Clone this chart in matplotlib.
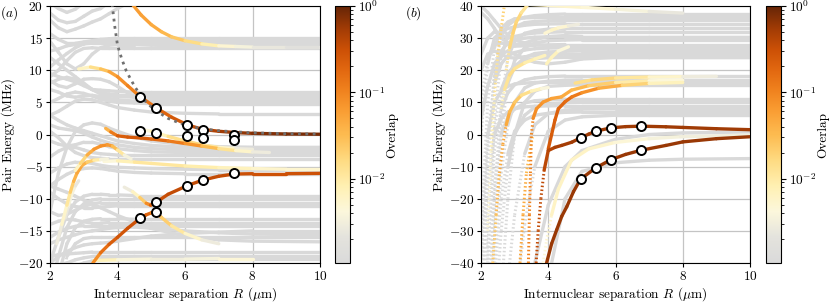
import numpy as np
import matplotlib
matplotlib.use('Agg')
import matplotlib.pyplot as plt
from matplotlib.collections import LineCollection
from matplotlib.colors import LinearSegmentedColormap, LogNorm
from matplotlib.cm import ScalarMappable

plt.rcParams['font.family'] = 'serif'
plt.rcParams['font.serif'] = ['cmr10']
plt.rcParams['mathtext.fontset'] = 'cm'
plt.rcParams['axes.formatter.use_mathtext'] = True
plt.rcParams['font.size'] = 9.6

# ---------------- panel (a) data ----------------
grey_a_R = [2.0, 2.25, 2.5, 2.75, 3.0, 3.25, 3.5, 3.75, 4.0, 4.5, 5.0, 6.0, 7.0, 8.0, 10.0]
grey_a_E = [
    [18.9, 17.8, 17.4, 17.6, 18.4, 19.2, 19.6, 20.6, 22, 25, 25, 25, 25, 25, 25],
    [17.8, 16.6, 16.0, 16.4, 16.9, 17.5, 18.0, 18.8, 19.6, 21, 25, 25, 25, 25, 25],
    [20.5, 19.6, 19.0, 19.5, 20.5, 22, 24, 25, 25, 25, 25, 25, 25, 25, 25],
    [15.7, 14.8, 14.2, 14.2, 14.4, 14.6, 14.8, 14.9, 15.0, 15.0, 15.0, 15.0, 15.0, 15.0, 15.0],
    [10.5, 11.6, 12.6, 13.5, 14.1, 14.4, 14.5, 14.6, 14.6, 14.6, 14.6, 14.6, 14.6, 14.6, 14.6],
    [13.0, 13.3, 13.8, 14.0, 14.1, 14.2, 14.2, 14.2, 14.2, 14.2, 14.2, 14.2, 14.2, 14.2, 14.2],
    [9.0, 10.0, 11.5, 12.8, 13.4, 13.5, 13.4, 13.4, 13.4, 13.4, 13.4, 13.4, 13.4, 13.4, 13.4],
    [14.5, 12.8, 11.0, 10.2, 11.0, 12.5, 13.5, 13.9, 14.0, 14.0, 13.9, 13.8, 13.8, 13.8, 13.8],
    [9.5, 9.0, 8.6, 8.2, 7.6, 7.0, 6.9, 6.8, 6.7, 6.6, 6.6, 6.6, 6.6, 6.6, 6.6],
    [8.0, 8.6, 8.9, 8.6, 7.8, 7.0, 6.5, 6.3, 6.2, 6.2, 6.2, 6.2, 6.2, 6.2, 6.2],
    [12.0, 11.0, 10.0, 9.0, 8.0, 7.0, 6.3, 6.0, 5.9, 5.8, 5.8, 5.8, 5.8, 5.8, 5.8],
    [8.4, 7.6, 7.3, 7.9, 8.6, 8.7, 8.6, 8.2, 7.5, 5.8, 5.4, 5.3, 5.3, 5.3, 5.3],
    [7.0, 6.6, 6.0, 5.8, 6.0, 6.1, 5.9, 5.6, 5.4, 5.2, 5.0, 5.0, 5.0, 5.0, 5.0],
    [5.0, 5.6, 6.3, 6.6, 6.4, 6.0, 5.5, 5.2, 5.0, 4.9, 4.8, 4.8, 4.8, 4.8, 4.8],
    [3.0, 3.6, 4.4, 5.2, 5.5, 5.4, 5.0, 4.6, 4.2, 3.8, 3.5, 3.3, 3.2, 3.2, 3.2],
    [3.0, 2.2, 1.5, 1.0, 0.6, 0.2, -0.2, -0.6, -1.0, -1.4, -1.7, -2.0, -2.0, -2.0, -2.0],
    [1.5, 1.0, 0.8, 0.6, 0.2, -0.4, -0.9, -1.3, -1.6, -2.0, -2.2, -2.4, -2.4, -2.4, -2.4],
    [-1.0, -1.5, -1.8, -1.6, -1.2, -1.2, -1.5, -1.9, -2.2, -2.5, -2.7, -2.8, -2.8, -2.8, -2.8],
    [-3.5, -2.6, -2.0, -2.0, -2.4, -2.8, -3.0, -3.1, -3.2, -3.2, -3.2, -3.2, -3.2, -3.2, -3.2],
    [0.5, -0.5, -1.8, -2.8, -3.3, -3.6, -3.7, -3.8, -3.8, -3.8, -3.8, -3.8, -3.8, -3.8, -3.8],
    [-12, -6, -2, 0.5, 1.5, 1.8, 1.6, 1.0, 0.5, -0.4, -1.0, -1.6, -1.9, -2.0, -2.0],
    [-6.0, -5.2, -4.6, -4.3, -4.3, -4.5, -4.8, -5.0, -5.1, -5.2, -5.3, -5.4, -5.5, -5.5, -5.5],
    [-8.0, -7.0, -6.2, -5.6, -5.3, -5.2, -5.3, -5.5, -5.7, -5.9, -6.0, -6.1, -6.1, -6.1, -6.1],
    [-20, -16, -12.5, -10.5, -9.6, -9.3, -9.3, -9.4, -9.4, -9.5, -9.5, -9.5, -9.5, -9.5, -9.5],
    [-24, -19, -14.5, -12, -10.8, -10.2, -10.0, -10.0, -10.0, -10.0, -10.0, -10.0, -10.0, -10.0, -10.0],
    [-12.0, -12.6, -12.4, -11.8, -11.2, -10.8, -10.6, -10.6, -10.6, -10.6, -10.6, -10.6, -10.6, -10.6, -10.6],
    [-9.0, -10.0, -10.8, -11.2, -11.4, -11.4, -11.3, -11.2, -11.1, -11.1, -11.1, -11.1, -11.1, -11.1, -11.1],
    [-28, -22, -17, -14.5, -13.5, -13.2, -13.1, -13.1, -13.1, -13.2, -13.2, -13.2, -13.2, -13.2, -13.2],
    [-14.0, -13.5, -13.2, -13.3, -13.6, -13.8, -13.8, -13.7, -13.7, -13.7, -13.7, -13.7, -13.7, -13.7, -13.7],
    [-16, -15.2, -14.6, -14.3, -14.2, -14.2, -14.2, -14.2, -14.2, -14.2, -14.2, -14.2, -14.2, -14.2, -14.2],
    [-17, -16.4, -16.0, -15.6, -15.2, -15.0, -14.8, -14.6, -14.5, -14.4, -14.6, -15.0, -15.3, -15.5, -15.6],
    [-35, -26, -19, -17, -16.2, -16.0, -16.0, -16.0, -16.0, -16.0, -16.0, -16.0, -16.0, -16.0, -16.0],
    [-8, -8.5, -9.0, -9.6, -10.2, -10.8, -11.4, -12.0, -12.6, -13.6, -14.6, -15.8, -16.4, -16.6, -16.7],
    [-20, -19, -18.2, -17.6, -17.2, -17.0, -16.9, -16.8, -16.6, -16.2, -15.8, -15.4, -15.2, -15.0, -15.0],
    [-19.0, -18.7, -18.6, -18.5, -18.4, -18.3, -18.3, -18.3, -18.3, -18.3, -18.3, -18.3, -18.3, -18.3, -18.3],
    [-21, -20.5, -20, -19.5, -19.2, -19.0, -18.9, -18.9, -18.9, -18.9, -18.9, -18.9, -18.9, -18.9, -18.9],
    [-40, -30, -22, -20.5, -20, -19.7, -19.5, -19.4, -19.4, -19.4, -19.4, -19.4, -19.4, -19.4, -19.4],
]

top_a_R = [4.45, 4.7, 5.0, 5.3, 5.6, 6.0, 6.5, 7.0, 7.5, 8.0, 9.0, 10.0]
top_a_E = [20.2, 18.6, 17.1, 16.0, 15.2, 14.6, 14.1, 13.8, 13.7, 13.6, 13.6, 13.6]
top_a_ov = [0.06, 0.06, 0.05, 0.04, 0.03, 0.02, 0.012, 0.006, 0.004, 0.003, 0.002, 0.0015]

main_a_R = [2.85, 3.2, 3.5, 3.75, 4.0, 4.3, 4.67, 5.16, 5.6, 6.07, 6.52, 7.0, 7.5, 8.0, 9.0, 10.0]
main_a_E = [10.2, 10.5, 10.2, 9.8, 9.0, 7.6, 5.9, 4.1, 2.7, 1.5, 0.8, 0.5, 0.3, 0.18, 0.08, 0.04]
main_a_ov = [0.004, 0.01, 0.02, 0.04, 0.07, 0.09, 0.12, 0.17, 0.22, 0.3, 0.4, 0.5, 0.6, 0.7, 0.8, 0.85]

zero_a_R = [3.65, 3.8, 4.0, 4.3, 4.7, 5.0, 5.5, 6.0, 6.5, 7.0, 7.5, 8.0, 8.5]
zero_a_E = [0.95, 0.4, -0.2, -0.4, -0.55, -0.7, -1.0, -1.4, -1.8, -2.2, -2.5, -2.7, -2.8]
zero_a_ov = [0.02, 0.08, 0.2, 0.25, 0.25, 0.2, 0.15, 0.1, 0.05, 0.02, 0.008, 0.004, 0.002]

pale_a_R = [4.6, 5.0, 5.5, 6.0, 6.5, 7.0, 7.5, 8.0]
pale_a_E = [0.9, 0.5, -0.3, -1.0, -1.6, -2.0, -2.2, -2.3]
pale_a_ov = [0.003, 0.006, 0.01, 0.02, 0.015, 0.008, 0.004, 0.002]

hump_a_R = [2.75, 2.9, 3.1, 3.3, 3.5, 3.7, 3.85, 4.0, 4.2, 4.4]
hump_a_E = [-5.6, -4.5, -3.2, -2.3, -1.8, -1.6, -1.8, -2.4, -3.2, -3.8]
hump_a_ov = [0.004, 0.01, 0.03, 0.06, 0.08, 0.08, 0.05, 0.02, 0.006, 0.002]

rise_a_R = [2.2, 2.35, 2.5, 2.6, 2.7, 2.8, 2.95, 3.1, 3.3, 3.5, 3.7]
rise_a_E = [-17, -14, -11, -9, -7.3, -6.0, -4.8, -4.3, -4.0, -3.9, -3.8]
rise_a_ov = [0.002, 0.004, 0.008, 0.015, 0.03, 0.05, 0.05, 0.03, 0.015, 0.006, 0.002]

yel_a_R = [3.6, 4.0, 4.5, 5.0, 6.0, 7.0, 8.0, 9.0, 10.0]
yel_a_E = [-4.2, -4.1, -4.3, -4.5, -4.9, -5.15, -5.3, -5.4, -5.4]
yel_a_ov = [0.003, 0.006, 0.01, 0.012, 0.01, 0.008, 0.006, 0.005, 0.005]

low_a_R = [3.27, 3.5, 3.75, 4.0, 4.3, 4.67, 4.85, 5.0, 5.1, 5.3, 5.6, 6.0, 6.5, 7.0]
low_a_E = [-20, -18.4, -17.1, -16.0, -14.6, -13.05, -12.5, -12.2, -12.05, -12.9, -14.2, -15.4, -16.4, -17.0]
low_a_ov = [0.06, 0.12, 0.2, 0.25, 0.3, 0.3, 0.25, 0.15, 0.08, 0.03, 0.015, 0.008, 0.004, 0.002]

up_a_R = [4.2, 4.45, 4.66, 4.85, 4.98, 5.14, 5.5, 6.07, 6.52, 7.0, 7.46, 8.0, 9.0, 10.0]
up_a_E = [-8.2, -8.9, -9.8, -10.7, -11.0, -10.57, -9.3, -7.95, -7.1, -6.5, -6.15, -6.1, -6.1, -6.05]
up_a_ov = [0.002, 0.004, 0.01, 0.05, 0.15, 0.3, 0.35, 0.35, 0.35, 0.35, 0.33, 0.3, 0.3, 0.3]

bot_a_R = [3.3, 4.0, 5.0, 6.0, 7.0, 8.0]
bot_a_E = [-19.6, -19.5, -19.4, -19.4, -19.3, -19.3]
bot_a_ov = [0.01, 0.005, 0.003, 0.003, 0.004, 0.005]

left_a_R = [2.45, 2.55, 2.65, 2.75, 2.85]
left_a_E = [-13, -11, -9.2, -8.0, -7.2]
left_a_ov = [0.002, 0.003, 0.004, 0.003, 0.002]

dot_a_R = [3.84, 3.92, 4.0, 4.13, 4.26, 4.4, 4.53, 4.67, 4.8, 5.0, 5.2, 5.5, 6.0, 6.5, 7.0, 8.0, 9.0, 10.0]
dot_a_E = [20.3, 16.8, 13.9, 11.7, 9.9, 8.5, 7.3, 6.2, 5.3, 4.3, 3.5, 2.5, 1.45, 0.9, 0.58, 0.26, 0.13, 0.07]

mk_a_R = [4.67, 5.15, 6.07, 6.52, 7.46, 4.67, 5.15, 6.07, 6.52, 7.46, 7.46, 6.52, 6.07, 5.15, 5.15, 4.67]
mk_a_E = [5.85, 4.15, 1.45, 0.67, -0.1, 0.52, 0.26, -0.26, -0.52, -0.93, -5.96, -7.1, -7.98, -10.57, -12.0, -13.06]

# ---------------- panel (b) data ----------------
grey_b_R = [2.0, 2.2, 2.4, 2.6, 2.8, 3.0, 3.3, 3.6, 4.0, 4.5, 5.0, 6.0, 7.0, 8.0, 10.0]
grey_b_E = [
    [-60, -10, 20, 31, 34, 35.5, 36.5, 37, 37.3, 37.5, 37.5, 37.5, 37.5, 37.5, 37.5],
    [-30, 10, 27, 33, 35, 36, 36.3, 36.4, 36.5, 36.5, 36.5, 36.5, 36.5, 36.5, 36.5],
    [-80, -40, 5, 24, 31, 33.5, 34.8, 35.2, 35.4, 35.5, 35.5, 35.5, 35.5, 35.5, 35.5],
    [0, 22, 30, 32, 33, 33.5, 34, 34.3, 34.4, 34.5, 34.5, 34.5, 34.5, 34.5, 34.5],
    [-90, -60, -20, 10, 24, 29, 31.5, 32.3, 32.8, 33, 33, 33, 33, 33, 33],
    [25, 30, 32, 31, 30, 30.5, 31.2, 31.6, 31.8, 32, 32, 32, 32, 32, 32],
    [-50, -5, 18, 26, 28.5, 29.5, 30, 30.3, 30.4, 30.5, 30.5, 30.5, 30.5, 30.5, 30.5],
    [-120, -70, -30, 0, 16, 23, 27, 28.5, 29.2, 29.4, 29.5, 29.5, 29.5, 29.5, 29.5],
    [10, 24, 28, 28.5, 28, 27.5, 27.6, 27.8, 27.9, 28, 28, 28, 28, 28, 28],
    [-40, 0, 16, 22, 24.5, 25.5, 26.3, 26.7, 26.9, 27, 27, 27, 27, 27, 27],
    [-100, -60, -20, 5, 16, 21, 24, 25.2, 25.7, 25.9, 26, 26, 26, 26, 26],
    [20, 25, 26, 25, 24, 23.8, 24.2, 24.6, 24.8, 25, 25, 25, 25, 25, 25],
    [-70, -25, 2, 14, 19, 21.5, 23, 23.6, 23.9, 24, 24, 24, 24, 24, 24],
    [38, 36, 33, 30, 28.5, 28, 28.5, 29.5, 30.5, 30.8, 30.5, 30.5, 30.5, 30.5, 30.5],
    [40, 38, 35.5, 33, 31, 29.5, 28.5, 28, 27.6, 27.3, 27.1, 27, 27, 27, 27],
    [5, 15, 22, 25, 26, 25, 23.5, 22.5, 22, 22.5, 23.5, 24, 24, 24, 24],
    [-80, -35, -5, 8, 13, 15.5, 17, 17.6, 18, 18.2, 18.2, 18.2, 18.2, 18.2, 18.2],
    [-130, -80, -40, -12, 3, 10, 14.5, 16, 16.6, 16.9, 17, 17, 17, 17, 17],
    [-30, 0, 10, 13.5, 15, 15.7, 16, 16.2, 16.3, 16.3, 16.3, 16.3, 16.3, 16.3, 16.3],
    [-200, -140, -90, -50, -20, 0, 10, 13.5, 15, 15.3, 15.5, 15.5, 15.5, 15.5, 15.5],
    [-90, -45, -15, 0, 5.5, 8, 9.8, 10.5, 10.8, 11, 11, 11, 11, 11, 11],
    [-150, -100, -60, -30, -10, 0, 6, 8.5, 9.5, 9.9, 10, 10, 10, 10, 10],
    [-50, -15, 0, 5, 7, 8, 8.6, 8.8, 8.9, 9, 9, 9, 9, 9, 9],
    [-220, -160, -110, -75, -45, -25, -6, 3, 6.5, 7.6, 7.9, 8, 8, 8, 8],
    [-120, -80, -45, -20, -6, 1, 4.5, 6, 6.6, 6.9, 7, 7, 7, 7, 7],
    [-260, -200, -150, -110, -80, -55, -28, -10, 1, 4.5, 5.5, 6, 6, 6, 6],
    [-400, -350, -300, -250, -200, -150, -100, -70, -45, -20, -11.5, -8.8, -8.0, -7.7, -7.5],
    [-300, -250, -200, -160, -120, -90, -60, -40, -22, -10, -5, -1.5, 0, 0.5, 0.8],
]

up_b_R = [3.64, 3.7, 3.78, 3.88, 4.0, 4.2, 4.4, 4.7, 4.96, 5.2, 5.41, 5.87, 6.3, 6.76, 7.5, 8.0, 9.0, 10.0]
up_b_E = [-40, -30, -20, -11, -5.0, -4.0, -3.4, -2.4, -1.04, 0.1, 1.04, 2.07, 2.45, 2.59, 2.4, 2.2, 1.8, 1.5]
up_b_ov = [0.35, 0.35, 0.35, 0.38, 0.4, 0.45, 0.5, 0.55, 0.55, 0.55, 0.55, 0.55, 0.55, 0.55, 0.55, 0.55, 0.55, 0.55]

low_b_R = [3.95, 4.1, 4.25, 4.4, 4.55, 4.75, 4.96, 5.41, 5.87, 6.3, 6.76, 7.5, 8.0, 9.0, 10.0]
low_b_E = [-40, -34, -29.7, -25.5, -22.5, -17.8, -13.9, -10.4, -7.8, -6.2, -4.9, -3.4, -2.3, -1.3, -0.7]
low_b_ov = [0.6, 0.6, 0.6, 0.6, 0.6, 0.6, 0.6, 0.6, 0.6, 0.6, 0.6, 0.6, 0.6, 0.6, 0.6]

rise_b_R = [4.0, 4.1, 4.2, 4.3, 4.5, 4.7, 5.0, 5.5, 6.2, 7.0, 8.0]
rise_b_E = [-4.5, 0, 4.5, 8.0, 10.2, 11.7, 13.0, 14.4, 15.3, 15.9, 16.2]
rise_b_ov = [0.25, 0.25, 0.22, 0.2, 0.18, 0.15, 0.1, 0.06, 0.03, 0.012, 0.004]

orng_b_R = [3.41, 3.44, 3.47, 3.5, 3.55, 3.65, 3.85, 4.1, 4.39, 4.69, 5.2, 6.0, 7.0, 8.0]
orng_b_E = [-40, -25, -12, 0, 5, 8, 10.1, 11.2, 11.7, 13.8, 15.2, 16.2, 16.7, 16.9]
orng_b_ov = [0.1, 0.1, 0.1, 0.1, 0.09, 0.08, 0.07, 0.06, 0.05, 0.04, 0.03, 0.015, 0.006, 0.003]

lorng_b_R = [3.16, 3.25, 3.35, 3.46, 3.55]
lorng_b_E = [-40, -25, -12, -4.8, 0]
lorng_b_ov = [0.05, 0.05, 0.04, 0.03, 0.01]

left_b_R = [2.35, 2.45, 2.55, 2.65, 2.75, 2.85, 3.0, 3.2, 3.5, 3.8, 4.0]
left_b_E = [-40, -25, -12, -3, 3, 7, 10, 12.2, 13.5, 14.3, 14.6]
left_b_ov = [0.02, 0.03, 0.04, 0.05, 0.05, 0.04, 0.03, 0.02, 0.01, 0.005, 0.003]

y20_b_R = [2.6, 2.7, 2.85, 3.0, 3.3, 3.6, 3.9]
y20_b_E = [8, 14, 18.5, 20.5, 22.3, 23.5, 24.6]
y20_b_ov = [0.005, 0.01, 0.015, 0.015, 0.01, 0.008, 0.006]

y25_b_R = [3.95, 4.1, 4.3, 4.6]
y25_b_E = [22, 24, 26, 27.3]
y25_b_ov = [0.006, 0.008, 0.006, 0.003]

steep_b_R = [2.2, 2.3, 2.4, 2.5, 2.6, 2.7]
steep_b_E = [-30, -5, 12, 25, 33, 40.5]
steep_b_ov = [0.004, 0.006, 0.01, 0.015, 0.02, 0.02]

y38_b_R = [2.75, 2.85, 2.95, 3.05, 3.2, 3.4]
y38_b_E = [20, 27, 31.5, 35, 37.9, 40.5]
y38_b_ov = [0.01, 0.015, 0.02, 0.02, 0.015, 0.01]

top_b_R = [3.4, 4.0, 5.0, 6.0, 7.0, 8.0]
top_b_E = [40.5, 40.2, 39.6, 39.0, 38.3, 37.8]
top_b_ov = [0.008, 0.006, 0.005, 0.004, 0.003, 0.002]

y33_b_R = [3.9, 4.1, 4.3, 4.6, 4.9]
y33_b_E = [31.5, 32.5, 33.2, 33.8, 34.3]
y33_b_ov = [0.004, 0.006, 0.006, 0.004, 0.002]

y17_b_R = [4.8, 5.3, 6.0, 7.0, 8.0, 9.0]
y17_b_E = [16.0, 17.0, 17.6, 17.9, 18.0, 18.1]
y17_b_ov = [0.01, 0.02, 0.015, 0.008, 0.004, 0.002]

pale_b_R = [3.85, 3.95, 4.1, 4.3, 4.69, 5.2, 5.97, 7.0, 7.94, 10.0]
pale_b_E = [-40, -33, -25, -17, -8, -4.5, -2.5, -1.3, -0.7, -0.2]
pale_b_ov = [0.004, 0.005, 0.006, 0.006, 0.006, 0.006, 0.005, 0.004, 0.003, 0.003]

mk_b_R = [4.96, 5.41, 5.87, 6.76, 4.96, 5.41, 5.87, 6.76]
mk_b_E = [-1.04, 1.04, 2.07, 2.59, -13.9, -10.4, -7.8, -4.9]

colored_a = [(top_a_R, top_a_E, top_a_ov), (main_a_R, main_a_E, main_a_ov),
             (zero_a_R, zero_a_E, zero_a_ov), (pale_a_R, pale_a_E, pale_a_ov),
             (hump_a_R, hump_a_E, hump_a_ov), (rise_a_R, rise_a_E, rise_a_ov),
             (yel_a_R, yel_a_E, yel_a_ov), (low_a_R, low_a_E, low_a_ov),
             (up_a_R, up_a_E, up_a_ov), (bot_a_R, bot_a_E, bot_a_ov),
             (left_a_R, left_a_E, left_a_ov)]
colored_b = [(up_b_R, up_b_E, up_b_ov), (low_b_R, low_b_E, low_b_ov),
             (rise_b_R, rise_b_E, rise_b_ov), (orng_b_R, orng_b_E, orng_b_ov),
             (lorng_b_R, lorng_b_E, lorng_b_ov), (left_b_R, left_b_E, left_b_ov),
             (y20_b_R, y20_b_E, y20_b_ov), (y25_b_R, y25_b_E, y25_b_ov),
             (steep_b_R, steep_b_E, steep_b_ov), (y38_b_R, y38_b_E, y38_b_ov),
             (top_b_R, top_b_E, top_b_ov), (y33_b_R, y33_b_E, y33_b_ov),
             (y17_b_R, y17_b_E, y17_b_ov), (pale_b_R, pale_b_E, pale_b_ov)]

GREY = '#d9d9d9'
LW = 2.4
cmap = LinearSegmentedColormap.from_list('overlap', [
    (0.0, '#dadada'), (0.1, '#e4e3dd'), (0.2, '#fcf7dc'), (0.3, '#fff0b2'),
    (0.4, '#fedb82'), (0.5, '#fdbb50'), (0.6, '#f99a30'), (0.67, '#f0821e'),
    (0.75, '#e26810'), (0.83, '#cc5006'), (0.91, '#a33c05'), (1.0, '#662506')])
norm = LogNorm(vmin=1.05e-3, vmax=1.0)


def draw_curve(ax, R, E, ov=None, z=2):
    R = np.asarray(R, float)
    E = np.asarray(E, float)
    segs = np.stack([np.column_stack([R[:-1], E[:-1]]),
                     np.column_stack([R[1:], E[1:]])], axis=1)
    pix = ax.transData.transform(np.column_stack([R, E]))
    d = np.diff(pix, axis=0)
    steep = np.abs(d[:, 1]) > 5 * np.abs(d[:, 0])
    if ov is not None:
        ov = np.asarray(ov, float)
        seg_ov = np.sqrt(ov[:-1] * ov[1:])
        cols = cmap(norm(seg_ov))
        z = z + float(np.log10(seg_ov.mean()) + 4)
    else:
        cols = np.array([matplotlib.colors.to_rgba(GREY)] * len(segs))
    if (~steep).any():
        lc = LineCollection(segs[~steep], colors=cols[~steep], linewidths=LW,
                            capstyle='round', joinstyle='round', zorder=z)
        ax.add_collection(lc)
    if steep.any():
        lc = LineCollection(segs[steep], colors=cols[steep], linewidths=LW * 0.9,
                            linestyles=[(0, (0.5, 0.8))], capstyle='butt', zorder=z)
        ax.add_collection(lc)


fig = plt.figure(figsize=(8.31, 3.02), dpi=100)
ax_a = fig.add_axes([50/831, 1 - 263/302, 270/831, 257/302])
cax_a = fig.add_axes([335/831, 1 - 263/302, 15/831, 257/302])
ax_b = fig.add_axes([481/831, 1 - 263/302, 269/831, 257/302])
cax_b = fig.add_axes([766/831, 1 - 263/302, 15/831, 257/302])

for ax, ylim, yt in [(ax_a, (-20, 20), np.arange(-20, 21, 5)),
                     (ax_b, (-40, 40), np.arange(-40, 41, 10))]:
    ax.set_xlim(2, 10)
    ax.set_ylim(*ylim)
    ax.set_xticks([2, 4, 6, 8, 10])
    ax.set_yticks(yt)
    ax.grid(True, color='#c4c4c4', lw=0.9)
    ax.set_axisbelow(True)
    ax.set_xlabel(r'Internuclear separation $R$ ($\mu$m)', labelpad=1.5)
    ax.set_ylabel('Pair Energy (MHz)', labelpad=2)
    ax.tick_params(direction='out', length=3, width=0.8, pad=2)

for E in grey_a_E:
    draw_curve(ax_a, grey_a_R, E)
for R, E, ov in colored_a:
    draw_curve(ax_a, R, E, ov, z=3)
ax_a.plot(dot_a_R, dot_a_E, ls=':', color='#707070', lw=2.0, zorder=8)
ax_a.plot(mk_a_R, mk_a_E, 'o', ms=6.5, mfc='white', mec='black', mew=1.4, zorder=10)

for E in grey_b_E:
    draw_curve(ax_b, grey_b_R, E)
for R, E, ov in colored_b:
    draw_curve(ax_b, R, E, ov, z=3)
ax_b.plot(mk_b_R, mk_b_E, 'o', ms=6.5, mfc='white', mec='black', mew=1.4, zorder=10)

for cax in (cax_a, cax_b):
    cb = fig.colorbar(ScalarMappable(norm=norm, cmap=cmap), cax=cax)
    cb.set_label('Overlap', labelpad=1)
    cb.outline.set_linewidth(0.8)
    cax.tick_params(pad=2)

fig.text(0.0, 0.985, r'$(a)$', ha='left', va='top')
fig.text(405/831, 0.985, r'$(b)$', ha='left', va='top')

fig.savefig('out.png', dpi=100)
